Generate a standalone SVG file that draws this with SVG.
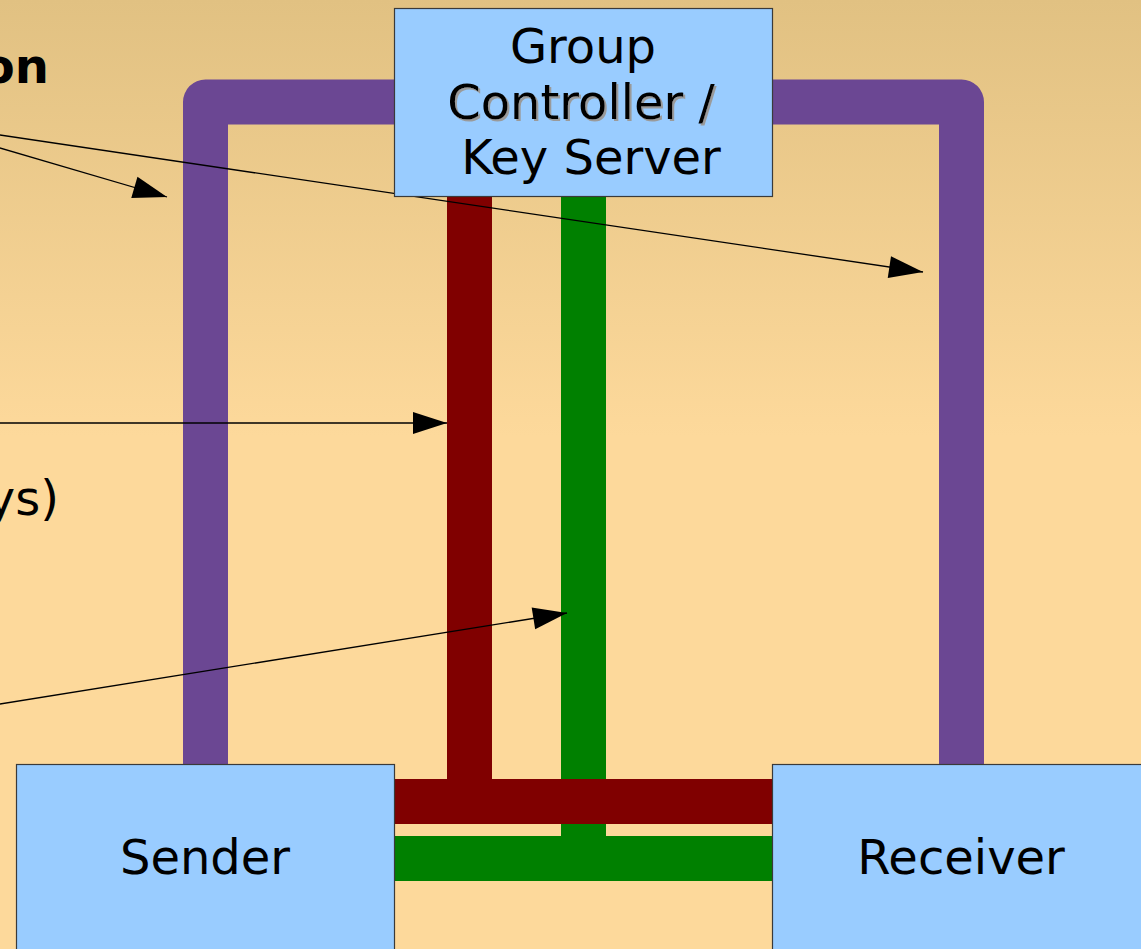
<svg xmlns="http://www.w3.org/2000/svg" width="1141" height="949" viewBox="0 0 1141 949">
  <defs>
    <linearGradient id="bg" x1="0" y1="0" x2="0" y2="949" gradientUnits="userSpaceOnUse">
      <stop offset="0" stop-color="#e1c182"/>
      <stop offset="0.46" stop-color="#fdd99b"/>
      <stop offset="1" stop-color="#fdd99b"/>
    </linearGradient>
    <marker id="arrow" markerUnits="userSpaceOnUse" markerWidth="34" markerHeight="22" refX="34" refY="11" orient="auto" overflow="visible">
      <path d="M0,0 L34,11 L0,22 Z" fill="#000"/>
    </marker>
    <filter id="shadow" x="-10%" y="-30%" width="120%" height="160%">
      <feDropShadow dx="2" dy="2" stdDeviation="0.3" flood-color="#9a9a9a" flood-opacity="1"/>
    </filter>
  </defs>
  <style>
    .box { fill: #99ccff; stroke: #3a3a3a; stroke-width: 1.2; }
    .label { font-family: "DejaVu Sans", "Liberation Sans", sans-serif; font-size: 48px; fill: #000; text-anchor: middle; }
    .side { font-family: "DejaVu Sans", "Liberation Sans", sans-serif; font-size: 48px; fill: #000; text-anchor: end; }
    .pipe { fill: none; stroke-width: 45; stroke-linecap: butt; }
    .pointer { fill: none; stroke: #000; stroke-width: 1.3; marker-end: url(#arrow); }
  </style>

  <!-- slide background -->
  <rect x="0" y="0" width="1141" height="949" fill="url(#bg)"/>

  <!-- partially visible side texts -->
  <text class="side" x="49" y="83" font-weight="bold">on</text>
  <text class="side" x="59" y="515">ys)</text>

  <g id="connectors">
    <!-- group-management channel (purple) -->
    <path class="pipe" d="M205.5,764 V102 H961.5 V764" stroke="#6b4793" stroke-linejoin="round"/>
    <!-- data channel (green) -->
    <path class="pipe" d="M583.5,196 V836" stroke="#008000"/>
    <path class="pipe" d="M394,858.5 H772" stroke="#008000"/>
    <!-- key channel (dark red) -->
    <path class="pipe" d="M469.5,196 V790" stroke="#800000"/>
    <path class="pipe" d="M394,801.5 H772" stroke="#800000"/>
  </g>

  <g id="pointers">
    <line class="pointer" x1="-50" y1="133.3" x2="167" y2="197"/>
    <line class="pointer" x1="-50" y1="127.6" x2="923" y2="272"/>
    <line class="pointer" x1="-10" y1="423" x2="447" y2="423"/>
    <line class="pointer" x1="-50" y1="712" x2="567" y2="613"/>
  </g>

  <g id="group-controller">
    <rect class="box" x="394.5" y="8.5" width="378" height="188"/>
    <text class="label" x="583" y="63">Group</text>
    <text class="label" x="581" y="119" filter="url(#shadow)">Controller /</text>
    <text class="label" x="591" y="174">Key Server</text>
  </g>

  <g id="sender">
    <rect class="box" x="16.5" y="764.5" width="378" height="200"/>
    <text class="label" x="205" y="874">Sender</text>
  </g>

  <g id="receiver">
    <rect class="box" x="772.5" y="764.5" width="390" height="200"/>
    <text class="label" x="961" y="874">Receiver</text>
  </g>
</svg>
